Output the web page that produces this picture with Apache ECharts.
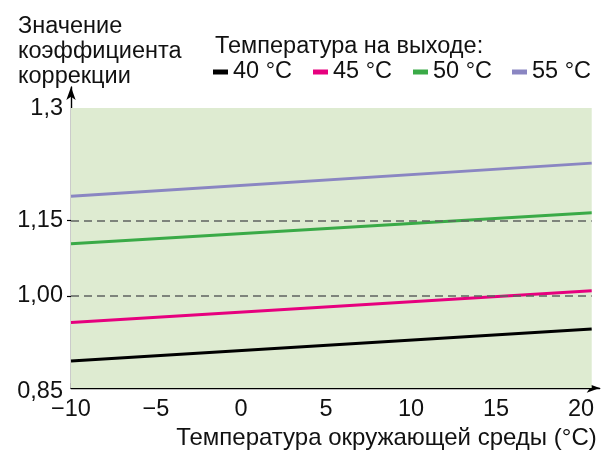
<!DOCTYPE html>
<html><head><meta charset="utf-8">
<script src="https://cdn.jsdelivr.net/npm/echarts@6/dist/echarts.min.js"></script>
<style>html,body{margin:0;padding:0;background:#fff}#c{width:603px;height:450px}</style>
</head><body><div id="c"></div>
<script>
// Data
const seriesNames = ['40 °C', '45 °C', '50 °C', '55 °C'];
const ambientTemps = [-10, 20.63];
const values40 = [0.870, 0.934];
const values45 = [0.947, 1.010];
const values50 = [1.104, 1.166];
const values55 = [1.199, 1.265];
const xTickValues = [-10, -5, 0, 5, 10, 15, 20];
const xTickLabels = ['−10', '−5', '0', '5', '10', '15', '20'];
const yTickValues = [0.816, 1.00, 1.15, 1.375];
const yTickLabels = ['0,85', '1,00', '1,15', '1,3'];
const yGridValues = [1.00, 1.15];

const colors = ['#000000', '#e6007e', '#3aaa47', '#8a86c2'];
const FONT = 'Liberation Sans, Arial, sans-serif';
const FS = 23.5, TFS = 23.5;
const xMin = -10, xMax = 21.1, yMin = 0.816, yMax = 1.417;

const chart = echarts.init(document.getElementById('c'));
const lineData = [values40, values45, values50, values55];
const series = lineData.map((vals, i) => ({
  name: seriesNames[i], type: 'line', z: 3,
  data: ambientTemps.map((t, j) => [t, vals[j]]),
  showSymbol: false, symbol: 'none', silent: true,
  lineStyle: { color: colors[i], width: 3 }, itemStyle: { color: colors[i] }
}));
series.unshift({
  type: 'line', data: [], z: 1, silent: true,
  markArea: { silent: true, itemStyle: { color: '#deebd1' },
    data: [[{ coord: [ambientTemps[0], yMin] }, { coord: [ambientTemps[1], yTickValues[3]] }]] },
  markLine: { silent: true, symbol: 'none', label: { show: false },
    lineStyle: { color: '#5f6360', type: [8, 5], width: 1.5 },
    data: yGridValues.map(v => [{ coord: [ambientTemps[0], v] }, { coord: [ambientTemps[1], v] }]) }
});

const legendLefts = [213, 313, 413, 512];
const legends = seriesNames.map((n, i) => ({
  data: [n], left: legendLefts[i], top: 60, icon: 'rect', itemWidth: 15, itemHeight: 5,
  itemGap: 0, padding: 0, selectedMode: false,
  textStyle: { fontFamily: FONT, fontSize: FS, color: '#111' }
}));

chart.setOption({
  animation: false,
  textStyle: { fontFamily: FONT },
  title: { text: 'Значение\nкоэффициента\nкоррекции', left: 13, top: 9, padding: 5,
    textStyle: { fontFamily: FONT, fontSize: FS, fontWeight: 'normal', color: '#111', lineHeight: 25 } },
  graphic: [{ type: 'text', left: 215, top: 35,
    style: { text: 'Температура на выходе:', fontFamily: FONT, fontSize: FS, fill: '#111' } }],
  legend: legends,
  grid: { left: 71, right: 3.3, top: 87, bottom: 62, containLabel: false },
  xAxis: {
    type: 'value', min: xMin, max: xMax,
    name: 'Температура окружающей среды (°C)', nameLocation: 'end',
    nameGap: 0,
    nameTextStyle: { fontFamily: FONT, fontSize: 24, color: '#111', align: 'right', verticalAlign: 'top', padding: [38, 3, 0, 0] },
    axisLine: { show: true, onZero: false, lineStyle: { color: '#000', width: 1.4 }, symbol: ['none', 'arrow'], symbolSize: [7, 13] },
    axisTick: { show: true, inside: true, length: 5, lineStyle: { color: '#000', width: 1.2 }, customValues: xTickValues },
    axisLabel: { customValues: xTickValues, fontFamily: FONT, fontSize: TFS, color: '#111', margin: 10,
      formatter: v => xTickLabels[xTickValues.indexOf(v)] },
    splitLine: { show: false }
  },
  yAxis: {
    type: 'value', min: yMin, max: yMax,
    axisLine: { show: true, onZero: false, lineStyle: { color: '#000', width: 1.4 }, symbol: ['none', 'arrow'], symbolSize: [7, 13] },
    axisTick: { show: true, inside: false, length: 4, lineStyle: { color: '#000', width: 1.2 }, customValues: yGridValues },
    axisLabel: { customValues: yTickValues, fontFamily: FONT, fontSize: TFS, color: '#111', margin: 8,
      formatter: v => {
        const i = yTickValues.indexOf(v);
        return i === 0 ? '{low|' + yTickLabels[i] + '}' : yTickLabels[i];
      },
      rich: {
        low: { fontFamily: FONT, fontSize: TFS, color: '#111', padding: [7, 0, 0, 0] }
      } },
    splitLine: { show: false }
  },
  series: series
});
</script></body></html>
